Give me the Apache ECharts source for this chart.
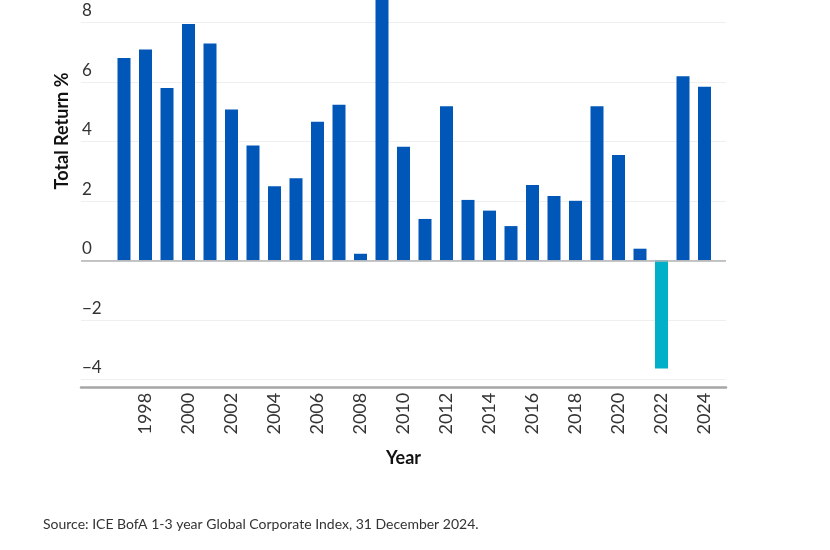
<!DOCTYPE html>
<html>
<head>
<meta charset="utf-8">
<script src="https://cdn.jsdelivr.net/npm/echarts@6/dist/echarts.min.js"></script>
<style>
html,body{margin:0;padding:0;background:#fff;}
#chart{width:830px;height:550px;}
</style>
</head>
<body>
<div id="chart"></div>
<script>
const years = [1997,1998,1999,2000,2001,2002,2003,2004,2005,2006,2007,2008,2009,2010,2011,2012,2013,2014,2015,2016,2017,2018,2019,2020,2021,2022,2023,2024];
const returns = [6.80,7.09,5.79,7.94,7.29,5.07,3.86,2.49,2.76,4.66,5.23,0.22,11.0,3.82,1.39,5.18,2.03,1.67,1.15,2.53,2.16,2.00,5.18,3.54,0.39,-3.64,6.19,5.83];
const xTickLabels = ['1998','2000','2002','2004','2006','2008','2010','2012','2014','2016','2018','2020','2022','2024'];
const yTickLabels = {'-4':'\u22124','-2':'\u22122','0':'0','2':'2','4':'4','6':'6','8':'8'};
const yAxisTitle = 'Total Return %';
const xAxisTitle = 'Year';
const sourceText = 'Source: ICE BofA 1-3 year Global Corporate Index, 31 December 2024.';

const BLUE = '#0057b8';
const TEAL = '#00afc8';
const FONT = 'Lato';
const GRID_LINE = '#efefef';

const chart = echarts.init(document.getElementById('chart'), null, {renderer:'canvas'});
chart.setOption({
  animation:false,
  backgroundColor:'#ffffff',
  textStyle:{fontFamily:FONT},
  title:{
    text:sourceText,
    left:38, top:512,
    textStyle:{fontFamily:FONT,fontSize:14,fontWeight:'normal',color:'#333333'}
  },
  graphic:[{
    type:'text',
    x:62, y:131,
    rotation:Math.PI/2,
    style:{text:yAxisTitle,fontFamily:FONT,fontSize:18,fontWeight:'bold',fill:'#111111',align:'center',verticalAlign:'middle'}
  }],
  grid:{left:81, right:104, top:0, height:379.3, containLabel:false},
  xAxis:{
    type:'value',
    min:1995, max:2025, interval:1,
    position:'bottom',
    offset:7.5,
    axisLine:{onZero:false,show:true,lineStyle:{color:'#a6a6a6',width:2.5}},
    axisTick:{show:false},
    splitLine:{show:false},
    axisLabel:{
      rotate:90, margin:6,
      fontFamily:FONT, fontSize:18, color:'#333333',
      formatter:function(v){ const s=String(v); return xTickLabels.indexOf(s)>=0 ? s : ''; }
    },
    name:xAxisTitle, nameLocation:'middle', nameGap:62,
    nameTextStyle:{fontFamily:FONT,fontSize:18,fontWeight:'bold',color:'#111111'}
  },
  yAxis:{
    type:'value',
    min:-4, max:8.75, interval:2,
    axisLine:{show:false},
    axisTick:{show:false},
    splitLine:{show:true,lineStyle:{color:[GRID_LINE,GRID_LINE,GRID_LINE,GRID_LINE,GRID_LINE,GRID_LINE,GRID_LINE,'rgba(0,0,0,0)'],width:1}},
    axisLabel:{
      inside:true, margin:1, align:'left', verticalAlign:'bottom',
      padding:[0,0,3,0],
      fontFamily:FONT, fontSize:17, color:'#333333',
      formatter:function(v){ const k=String(v); return yTickLabels[k]!==undefined ? yTickLabels[k] : ''; }
    }
  },
  series:[{
    type:'bar',
    barWidth:13,
    data:years.map(function(y,i){
      return {value:[y,returns[i]], itemStyle:{color: returns[i] < 0 ? TEAL : BLUE}};
    }),
    markLine:{
      silent:true, symbol:'none', label:{show:false},
      lineStyle:{color:'#b3b3b3',type:'solid',width:1.5},
      data:[{yAxis:0}]
    }
  }]
});
</script>
</body>
</html>
